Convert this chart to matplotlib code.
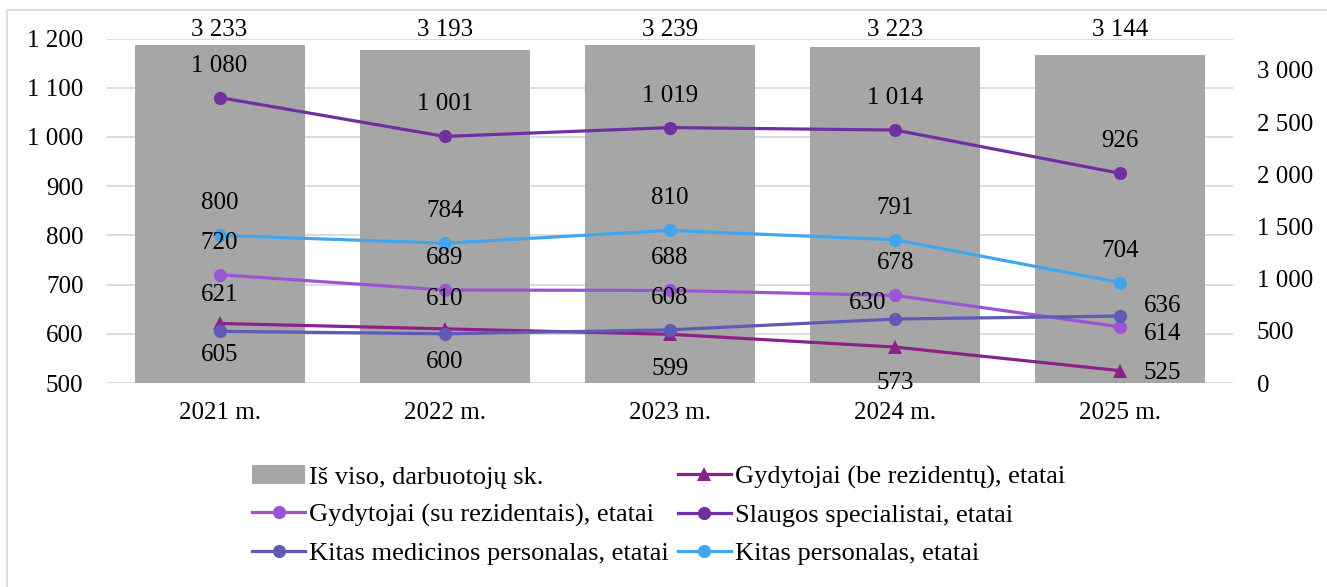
import numpy as np
import matplotlib
matplotlib.use("Agg")
import matplotlib.pyplot as plt
from matplotlib.patches import Rectangle, Patch
import matplotlib.transforms as mtransforms

plt.rcParams['font.family'] = ['Liberation Serif', 'DejaVu Serif']

years = ["2021 m.", "2022 m.", "2023 m.", "2024 m.", "2025 m."]
total = [3233, 3193, 3239, 3223, 3144]
gyd_be = [621, 610, 599, 573, 525]
gyd_su = [720, 689, 688, 678, 614]
slaugos = [1080, 1001, 1019, 1014, 926]
kitas_med = [605, 600, 608, 630, 636]
kitas_pers = [800, 784, 810, 791, 704]

# label placement per point: (dx, dy) in pixels
pos_gyd_be = [(0, 28), (0, 30), (0, -35), (0, -36), (42, -2)]
pos_gyd_su = [(0, 32), (0, 32), (0, 32), (0, 32), (42, -7)]
pos_slaugos = [(0, 32), (0, 32), (0, 32), (0, 32), (0, 32)]
pos_kitas_med = [(0, -24), (0, -28), (0, 32), (-28, 16), (42, 10)]
pos_kitas_pers = [(0, 32), (0, 32), (0, 32), (0, 32), (0, 32)]

def fmt(v):
    return f"{v:,.0f}".replace(",", " ")

fig = plt.figure(figsize=(13.27, 5.87), dpi=100)
W, H = 1327, 587
ax = fig.add_axes([107 / W, 1 - 383 / H, (1233 - 107) / W, (383 - 38.5) / H])
x = np.arange(len(years))

# grid + left axis
ax.set_ylim(500, 1200)
ax.set_yticks(np.arange(500, 1201, 100))
ax.set_yticklabels([fmt(v) for v in np.arange(500, 1201, 100)])
ax.yaxis.grid(True, color="#D9D9D9", linewidth=1.3)
ax.set_axisbelow(True)
ax.set_xlim(-0.5, len(years) - 0.5)
ax.set_xticks(x)
ax.set_xticklabels(years)
for s in ax.spines.values():
    s.set_visible(False)
ax.tick_params(axis="both", length=0, labelsize=18)
ax.tick_params(axis="y", pad=17)
ax.tick_params(axis="x", pad=14)

# bars on the right axis
axb = ax.twinx()
axb.bar(x, total, width=0.755, color="#A6A6A6")
axb.set_ylim(0, 3300)
axb.set_yticks(np.arange(0, 3001, 500))
axb.set_yticklabels([fmt(v) for v in np.arange(0, 3001, 500)])
axb.tick_params(axis="y", length=0, labelsize=18, pad=17)
for s in axb.spines.values():
    s.set_visible(False)
trans = mtransforms.blended_transform_factory(axb.transData, axb.transAxes)
for xi, v in zip(x, total):
    axb.text(xi, 1.026, fmt(v), transform=trans, ha="center", va="center", fontsize=18)

# lines on top
axl = ax.twinx()
axl.set_ylim(500, 1200)
axl.set_yticks([])
for s in axl.spines.values():
    s.set_visible(False)

series = [
    ("Gydytojai (be rezidentų), etatai", gyd_be, "#8B2288", "^", 10.5, pos_gyd_be),
    ("Gydytojai (su rezidentais), etatai", gyd_su, "#9B55D2", "o", 9.5, pos_gyd_su),
    ("Slaugos specialistai, etatai", slaugos, "#7030A0", "o", 9.5, pos_slaugos),
    ("Kitas medicinos personalas, etatai", kitas_med, "#5F5AB6", "o", 9.5, pos_kitas_med),
    ("Kitas personalas, etatai", kitas_pers, "#41A6EE", "o", 9.5, pos_kitas_pers),
]
handles = {}
for name, vals, col, mk, ms, offs in series:
    ln, = axl.plot(x, vals, color=col, linewidth=2.3, marker=mk, markersize=ms,
                   markeredgewidth=0, label=name)
    handles[name] = ln
    for xi, v, (dx, dy) in zip(x, vals, offs):
        axl.annotate(fmt(v), (xi, v), xytext=(dx, dy), textcoords="offset pixels",
                     ha="center", va="center", fontsize=18)

bar_handle = Patch(facecolor="#A6A6A6", label="Iš viso, darbuotojų sk.")
order = [bar_handle,
         handles["Gydytojai (su rezidentais), etatai"],
         handles["Kitas medicinos personalas, etatai"],
         handles["Gydytojai (be rezidentų), etatai"],
         handles["Slaugos specialistai, etatai"],
         handles["Kitas personalas, etatai"]]
fig.legend(handles=order, labels=[h.get_label() for h in order], ncol=2,
           loc="center", bbox_to_anchor=(658.5 / W, 1 - 515 / H), frameon=False,
           fontsize=19, handlelength=2.0, handletextpad=0.15, columnspacing=0.35,
           labelspacing=0.55, borderpad=0)

# chart border
fig.patches.append(Rectangle((7 / W, -0.05), 1.1, 1 - 10 / H + 0.05,
                             transform=fig.transFigure, fill=False,
                             edgecolor="#D9D9D9", linewidth=1.2))

plt.savefig("out.png", dpi=100)
